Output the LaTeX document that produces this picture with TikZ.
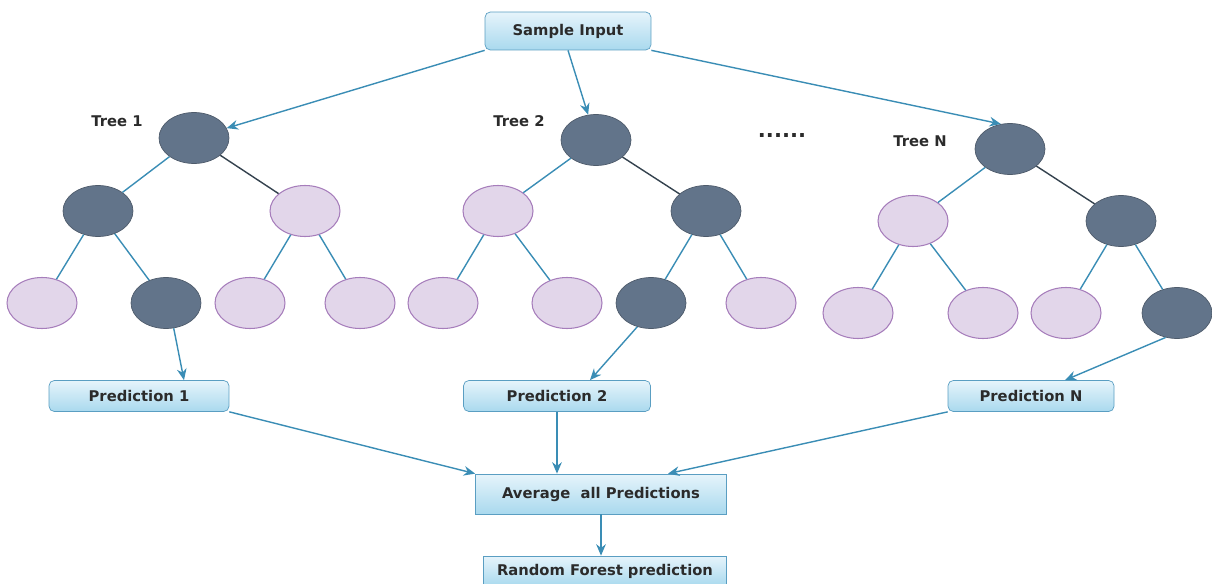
\documentclass[tikz,border=0pt]{standalone}
\usepackage{fontspec}
\setmainfont{DejaVu Sans}
\usetikzlibrary{shapes.geometric}
\usetikzlibrary{arrows.meta}

\definecolor{treedark}{HTML}{62748A}
\definecolor{treedarkline}{HTML}{4E5B6B}
\definecolor{treelight}{HTML}{E2D6EA}
\definecolor{treelightline}{HTML}{A67DBB}
\definecolor{edgeblue}{HTML}{3A8DB5}
\definecolor{edgedark}{HTML}{34424E}
\definecolor{boxtop}{HTML}{E6F4FB}
\definecolor{boxbot}{HTML}{A9D9EE}
\definecolor{boxline}{HTML}{5A9EC2}
\definecolor{txt}{HTML}{2B2B2B}

\tikzset{
	dark/.style={ellipse, draw=treedarkline, fill=treedark, minimum width=1.4cm, minimum height=1.02cm, inner sep=0pt},
	light/.style={ellipse, draw=treelightline, line width=0.6pt, fill=treelight, minimum width=1.4cm, minimum height=1.02cm, inner sep=0pt},
	edge/.style={draw=edgeblue, line width=0.8pt},
	darkedge/.style={draw=edgedark, line width=0.8pt},
	arr/.style={edge, -{Stealth[length=6.5pt,width=5.5pt]}},
	box/.style={draw=boxline, top color=boxtop, bottom color=boxbot, text=txt, inner sep=0pt,
		font=\bfseries\fontsize{8.4}{10}\selectfont},
	rbox/.style={box, rounded corners=3pt},
	lbl/.style={text=txt, font=\bfseries\fontsize{8.4}{10}\selectfont}
}

\begin{document}
\begin{tikzpicture}[x=0.02cm,y=-0.02cm]
		\path[use as bounding box, clip] (0,0) rectangle (1212,584);
		% input
		\node[rbox, minimum width=3.32cm, minimum height=0.76cm] (in) at (568,31) {Sample Input};
		% tree 1
		\node[lbl] (l1) at (117,121) {Tree 1};
		\node[dark] (t1r) at (194,138) {};
		\node[dark] (t1a) at (98,211) {};
		\node[light] (t1b) at (305,211) {};
		\node[light] (t1c) at (42,303) {};
		\node[dark] (t1d) at (166,303) {};
		\node[light] (t1e) at (250,303) {};
		\node[light] (t1f) at (360,303) {};
		\draw[edge] (t1r) -- (t1a);
		\draw[darkedge] (t1r) -- (t1b);
		\draw[edge] (t1a) -- (t1c);
		\draw[edge] (t1a) -- (t1d);
		\draw[edge] (t1b) -- (t1e);
		\draw[edge] (t1b) -- (t1f);
		% tree 2
		\node[lbl] (l2) at (519,121) {Tree 2};
		\node[dark] (t2r) at (596,140) {};
		\node[light] (t2a) at (498,211) {};
		\node[dark] (t2b) at (706,211) {};
		\node[light] (t2c) at (443,303) {};
		\node[light] (t2d) at (567,303) {};
		\node[dark] (t2e) at (651,303) {};
		\node[light] (t2f) at (761,303) {};
		\draw[edge] (t2r) -- (t2a);
		\draw[darkedge] (t2r) -- (t2b);
		\draw[edge] (t2a) -- (t2c);
		\draw[edge] (t2a) -- (t2d);
		\draw[edge] (t2b) -- (t2e);
		\draw[edge] (t2b) -- (t2f);
		% dots
		\node[text=txt, font=\bfseries\fontsize{12}{14}\selectfont] (dots) at (782,136) {......};
		% tree N
		\node[lbl] (lN) at (920,141) {Tree N};
		\node[dark] (tNr) at (1010,149) {};
		\node[light] (tNa) at (913,221) {};
		\node[dark] (tNb) at (1121,221) {};
		\node[light] (tNc) at (858,313) {};
		\node[light] (tNd) at (983,313) {};
		\node[light] (tNe) at (1066,313) {};
		\node[dark] (tNf) at (1177,313) {};
		\draw[edge] (tNr) -- (tNa);
		\draw[darkedge] (tNr) -- (tNb);
		\draw[edge] (tNa) -- (tNc);
		\draw[edge] (tNa) -- (tNd);
		\draw[edge] (tNb) -- (tNe);
		\draw[edge] (tNb) -- (tNf);
		% input to trees
		\draw[arr] (in.south west) -- (t1r);
		\draw[arr] (in.south) -- (t2r);
		\draw[arr] (in.south east) -- (tNr.110);
		% predictions
		\node[rbox, minimum width=3.6cm, minimum height=0.62cm] (p1) at (139,396) {Prediction 1};
		\node[rbox, minimum width=3.74cm, minimum height=0.62cm] (p2) at (557,396) {Prediction 2};
		\node[rbox, minimum width=3.32cm, minimum height=0.62cm] (pN) at (1031,396) {Prediction N};
		\draw[arr] (t1d.-73) -- ([xshift=0.9cm]p1.north);
		\draw[arr] (t2e.-120) -- ([xshift=0.66cm]p2.north);
		\draw[arr] (tNf.-115) -- ([xshift=0.68cm]pN.north);
		% averaging
		\node[box, minimum width=5.02cm, minimum height=0.8cm] (avg) at (601,494) {Average~ all Predictions};
		\node[box, minimum width=4.86cm, minimum height=0.6cm] (rf) at (605,571) {Random Forest prediction};
		\draw[arr] (p1.south east) -- (avg.north west);
		\draw[arr] (p2.south) -- (p2.south |- avg.north);
		\draw[arr] (pN.south west) -- ([xshift=1.34cm]avg.north);
		\draw[arr] (avg.south) -- (avg.south |- rf.north);
	\end{tikzpicture}
\end{document}
